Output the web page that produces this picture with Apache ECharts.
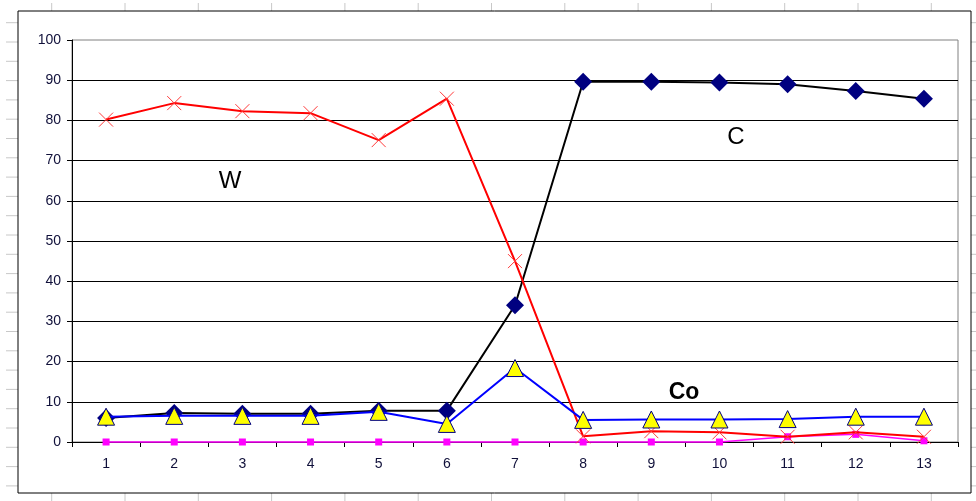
<!DOCTYPE html>
<html>
<head>
<meta charset="utf-8">
<script src="https://cdn.jsdelivr.net/npm/echarts@6/dist/echarts.min.js"></script>
<style>
  html, body { margin: 0; padding: 0; background: #fff; }
  #chart { width: 976px; height: 501px; }
</style>
</head>
<body>
<div id="chart"></div>
<script>
// Sample numbers along the x axis
const categories = ['1', '2', '3', '4', '5', '6', '7', '8', '9', '10', '11', '12', '13'];

// Composition values per sample (%)
const seriesW  = [80.2, 84.3, 82.3, 81.8, 75.1, 85.4, 45.0, 1.4, 2.7, 2.4, 1.3, 2.4, 1.3];
const seriesC  = [6.0, 7.2, 7.0, 7.0, 7.8, 7.8, 34.0, 89.6, 89.6, 89.4, 89.0, 87.3, 85.4];
const seriesCo = [6.3, 6.5, 6.5, 6.5, 7.5, 4.5, 18.4, 5.5, 5.6, 5.6, 5.7, 6.3, 6.3];
const seriesX  = [0, 0, 0, 0, 0, 0, 0, 0, 0, 0, 1.3, 1.9, 0.3];

const FONT = '"Liberation Sans", Arial, sans-serif';
const chart = echarts.init(document.getElementById('chart'), null, { renderer: 'canvas' });

// Worksheet cell lines around the chart object and the chart frame
const sheetLines = [];
const grey = '#c8c8c8';
for (let i = 0; i <= 24; i++) {
  const y = 22.7 + i * 19.3;
  sheetLines.push({ type: 'line', shape: { x1: 6, y1: y, x2: 18, y2: y }, style: { stroke: grey, lineWidth: 1 }, silent: true });
  sheetLines.push({ type: 'line', shape: { x1: 971, y1: y, x2: 976, y2: y }, style: { stroke: grey, lineWidth: 1 }, silent: true });
}
for (let i = 0; i <= 12; i++) {
  const x = 51.7 + i * 73.3;
  if (x > 970) break;
  sheetLines.push({ type: 'line', shape: { x1: x, y1: 3, x2: x, y2: 11 }, style: { stroke: grey, lineWidth: 1 }, silent: true });
  sheetLines.push({ type: 'line', shape: { x1: x, y1: 493, x2: x, y2: 501 }, style: { stroke: grey, lineWidth: 1 }, silent: true });
}

const crossPath = 'path://M0,0L10,10M10,0L0,10';

chart.setOption({
  animation: false,
  backgroundColor: '#fff',
  grid: {
    left: 72, right: 18, top: 40, bottom: 59,
    show: true, borderColor: '#808080', borderWidth: 1, backgroundColor: '#fff'
  },
  xAxis: {
    type: 'category',
    data: categories,
    boundaryGap: true,
    axisLine: { lineStyle: { color: '#000', width: 1 } },
    axisTick: { show: true, length: 5, lineStyle: { color: '#000' } },
    axisLabel: { color: '#10103a', fontSize: 14, fontFamily: FONT, margin: 15 },
    splitLine: { show: false }
  },
  yAxis: {
    type: 'value',
    min: 0, max: 100, interval: 10,
    axisLine: { show: true, lineStyle: { color: '#000', width: 1 } },
    axisTick: { show: true, length: 5, lineStyle: { color: '#000' } },
    axisLabel: { color: '#10103a', fontSize: 14, fontFamily: FONT, margin: 11 },
    splitLine: { show: true, showMinLine: false, showMaxLine: false, lineStyle: { color: '#000', width: 1 } }
  },
  series: [
    {
      name: 'X', type: 'line', data: seriesX, clip: false,
      symbol: 'rect', symbolSize: 7,
      lineStyle: { color: '#ff00ff', width: 1.5 },
      itemStyle: { color: '#ff00ff' }, z: 2
    },
    {
      name: 'C', type: 'line', data: seriesC, clip: false,
      symbol: 'diamond', symbolSize: 18,
      lineStyle: { color: '#000', width: 2 },
      itemStyle: { color: '#000080' }, z: 3
    },
    {
      name: 'W', type: 'line', data: seriesW, clip: false,
      symbol: crossPath, symbolSize: 14,
      lineStyle: { color: '#ff0000', width: 2 },
      itemStyle: { color: 'rgba(0,0,0,0)', borderColor: '#ff3a3a', borderWidth: 1 }, z: 4
    },
    {
      name: 'Co', type: 'line', data: seriesCo, clip: false,
      symbol: 'triangle', symbolSize: 17,
      lineStyle: { color: '#0000ff', width: 2 },
      itemStyle: { color: '#ffff00', borderColor: '#000080', borderWidth: 1 }, z: 5
    }
  ],
  graphic: [
    ...sheetLines,
    { type: 'rect', shape: { x: 18, y: 11, width: 953, height: 482 },
      style: { fill: 'none', stroke: '#000', lineWidth: 1 }, silent: true, z: 100 },
    { type: 'text', x: 230, y: 181, style: { text: 'W', font: '24px ' + FONT, fill: '#000', align: 'center', verticalAlign: 'middle' }, z: 100 },
    { type: 'text', x: 736, y: 137, style: { text: 'C', font: '24px ' + FONT, fill: '#000', align: 'center', verticalAlign: 'middle' }, z: 100 },
    { type: 'text', x: 684, y: 393, style: { text: 'Co', font: 'bold 23px ' + FONT, fill: '#000', align: 'center', verticalAlign: 'middle' }, z: 100 }
  ]
});
</script>
</body>
</html>
